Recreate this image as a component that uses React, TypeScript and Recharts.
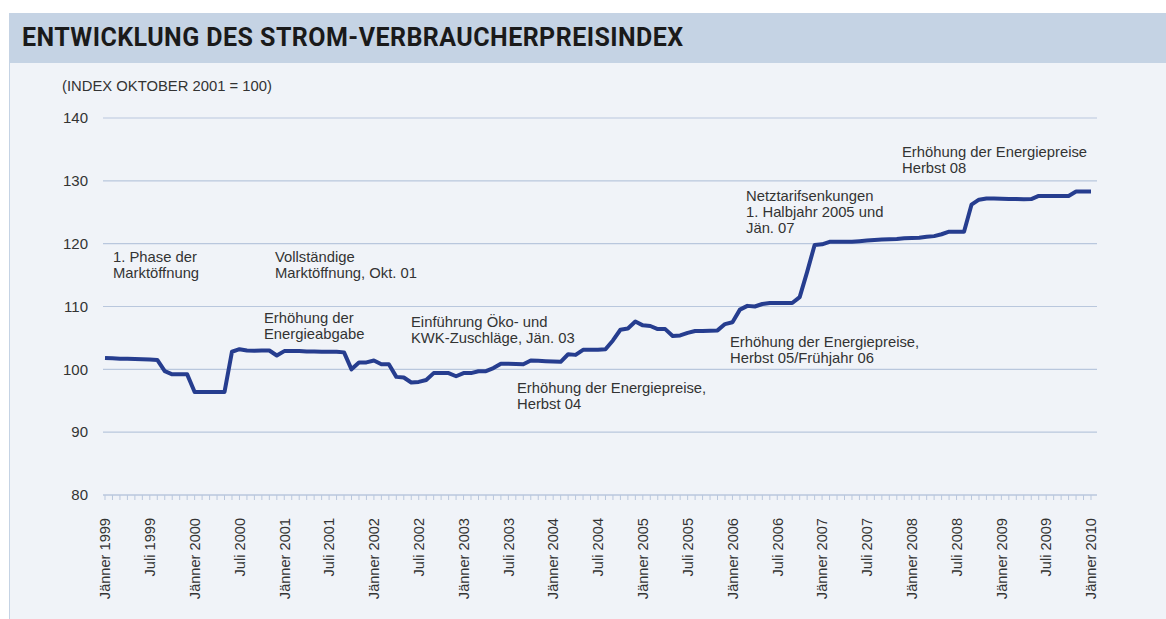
import { LineChart, Line, XAxis, YAxis, CartesianGrid } from 'recharts';

const MONTHS = [
  'Jänner', 'Februar', 'März', 'April', 'Mai', 'Juni',
  'Juli', 'August', 'September', 'Oktober', 'November', 'Dezember',
];
const YEARS = [1999, 2000, 2001, 2002, 2003, 2004, 2005, 2006, 2007, 2008, 2009, 2010];

// Strom-VPI, monthly, Jänner 1999 .. Jänner 2010 (Okt. 2001 = 100)
const VALUES = [
  101.8, 101.75, 101.7, 101.7, 101.65, 101.6, 101.55, 101.5, 99.7, 99.2, 99.2, 99.2,
  96.4, 96.4, 96.4, 96.4, 96.4, 102.8, 103.2, 103.0, 102.95, 103.0, 103.0, 102.2,
  102.9, 102.9, 102.9, 102.85, 102.85, 102.8, 102.8, 102.8, 102.7, 100.0, 101.1, 101.1,
  101.4, 100.8, 100.8, 98.8, 98.7, 97.9, 98.0, 98.3, 99.4, 99.4, 99.4, 98.9,
  99.4, 99.4, 99.7, 99.7, 100.2, 100.9, 100.9, 100.85, 100.8, 101.4, 101.35, 101.3,
  101.25, 101.2, 102.4, 102.3, 103.1, 103.1, 103.1, 103.2, 104.6, 106.3, 106.5, 107.6,
  107.0, 106.9, 106.4, 106.4, 105.3, 105.4, 105.8, 106.1, 106.1, 106.15, 106.2, 107.2,
  107.5, 109.5, 110.1, 110.0, 110.4, 110.55, 110.55, 110.55, 110.55, 111.5, 115.5, 119.8,
  119.9, 120.3, 120.3, 120.3, 120.3, 120.4, 120.5, 120.6, 120.65, 120.7, 120.75, 120.85,
  120.9, 120.95, 121.1, 121.2, 121.5, 121.9, 121.9, 121.9, 126.2, 127.0, 127.2, 127.2,
  127.15, 127.1, 127.1, 127.05, 127.1, 127.6, 127.6, 127.6, 127.6, 127.6, 128.3, 128.3,
  128.3,
];

const Y_TICKS = [80, 90, 100, 110, 120, 130, 140];
const LABEL_MONTHS = ['Jänner', 'Juli'];

const ANNOTATION_TEXTS = [
  ['1. Phase der', 'Marktöffnung'],
  ['Vollständige', 'Marktöffnung, Okt. 01'],
  ['Erhöhung der', 'Energieabgabe'],
  ['Einführung Öko- und', 'KWK-Zuschläge, Jän. 03'],
  ['Erhöhung der Energiepreise,', 'Herbst 04'],
  ['Netztarifsenkungen', '1. Halbjahr 2005 und', 'Jän. 07'],
  ['Erhöhung der Energiepreise,', 'Herbst 05/Frühjahr 06'],
  ['Erhöhung der Energiepreise', 'Herbst 08'],
];
const ANNOTATION_POS = [
  [113, 249], [275, 249], [264, 310], [411, 314],
  [517, 380], [746, 188], [730, 334], [902, 144],
];

const categories: string[] = [];
YEARS.forEach((y) => MONTHS.forEach((m) => categories.push(`${m} ${y}`)));
const data = VALUES.map((v, i) => ({ month: categories[i], value: v }));

const FONT = '"Liberation Sans", Arial, sans-serif';

const MonthTick = (props: any) => {
  const { x, y, payload } = props;
  const label: string = payload.value;
  if (!LABEL_MONTHS.includes(label.split(' ')[0])) return null;
  return (
    <g transform={`translate(${x},${y})`}>
      <text
        transform="rotate(-90)"
        x={-16}
        dy="0.36em"
        textAnchor="end"
        fill="#333"
        fontSize={14.6}
        fontFamily={FONT}
      >
        {label}
      </text>
    </g>
  );
};

export default function App() {
  return (
    <div style={{ position: 'absolute', left: 0, top: 0, width: 1166, height: 619, background: '#fff', overflow: 'hidden' }}>
      <div style={{ position: 'absolute', left: 9, top: 13, right: 0, height: 50, background: '#c5d3e4' }} />
      <div style={{ position: 'absolute', left: 9, top: 63, right: 0, bottom: 0, background: '#f0f3f8', borderLeft: '1px solid #c5d3e4' }} />
      <div
        style={{
          position: 'absolute', left: 22, top: 24, fontFamily: 'Roboto, sans-serif', fontWeight: 700,
          fontSize: 25, letterSpacing: 0.45, lineHeight: '28px', color: '#1a1a1a', whiteSpace: 'nowrap',
        }}
      >
        ENTWICKLUNG DES STROM-VERBRAUCHERPREISINDEX
      </div>
      <div style={{ position: 'absolute', left: 62, top: 78, fontFamily: FONT, fontSize: 14.8, lineHeight: '16px', color: '#333' }}>
        (INDEX OKTOBER 2001 = 100)
      </div>
      <div style={{ position: 'absolute', left: 0, top: 0 }}>
        <LineChart width={1166} height={619} data={data} margin={{ top: 118, right: 69, bottom: 0, left: 0 }}>
          <CartesianGrid vertical={false} stroke="#b9c7dd" strokeWidth={1.2} />
          <XAxis
            dataKey="month"
            interval={0}
            height={124}
            padding={{ left: 2, right: 6 }}
            tick={<MonthTick />}
            tickSize={5}
            stroke="#b9c7dd"
          />
          <YAxis
            domain={[80, 140]}
            ticks={Y_TICKS}
            width={103}
            axisLine={false}
            tickLine={false}
            tickSize={0}
            tickMargin={15}
            tick={{ fill: '#333', fontSize: 15, fontFamily: FONT }}
          />
          <Line
            type="linear"
            dataKey="value"
            stroke="#263d8f"
            strokeWidth={4}
            dot={false}
            strokeLinejoin="round"
            isAnimationActive={false}
          />
        </LineChart>
      </div>
      {ANNOTATION_TEXTS.map((lines, i) => (
        <div
          key={i}
          style={{
            position: 'absolute', left: ANNOTATION_POS[i][0], top: ANNOTATION_POS[i][1],
            fontFamily: FONT, fontSize: 14.8, lineHeight: '16px', color: '#333', whiteSpace: 'nowrap',
          }}
        >
          {lines.map((l) => (
            <div key={l}>{l}</div>
          ))}
        </div>
      ))}
    </div>
  );
}
